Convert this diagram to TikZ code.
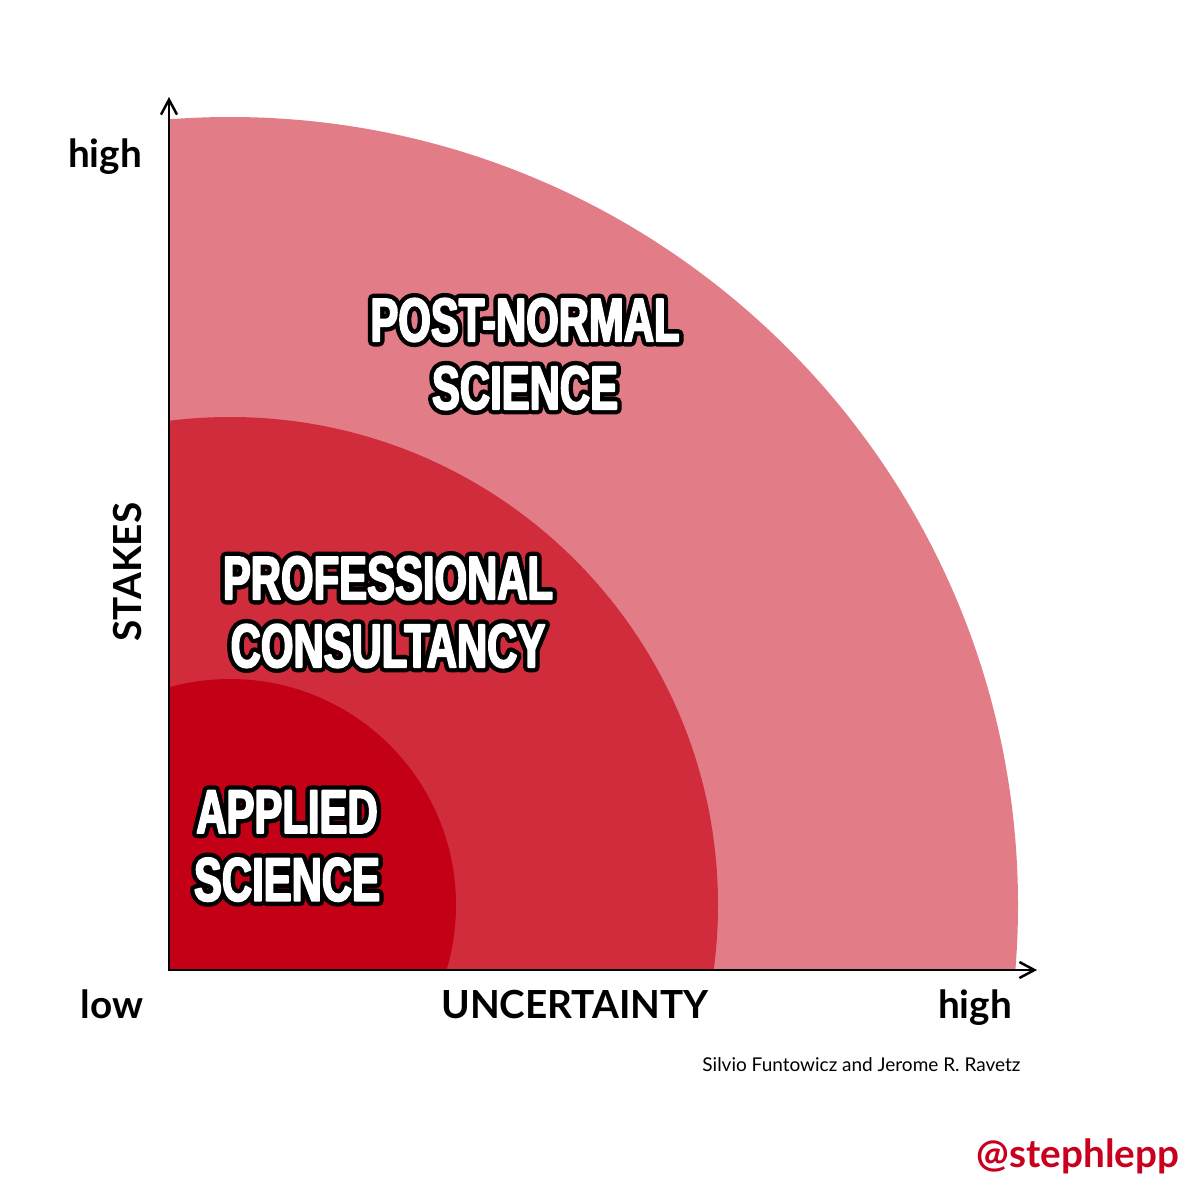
\documentclass[tikz,border=0pt]{standalone}
\usepackage{fontspec}
\setmainfont{Lato}
\newfontfamily\bannerfont[FakeStretch=0.68]{Liberation Sans}
\usetikzlibrary{arrows.meta}
\definecolor{pnsPink}{HTML}{E27D87}
\definecolor{pcRed}{HTML}{D02C3C}
\definecolor{asRed}{HTML}{C30016}
\definecolor{handleRed}{HTML}{C8001E}
% black outline under white letters
\newcommand{\outlined}[1]{\rlap{\special{pdf:literal direct 1 Tr 3 w 1 j 0 G}#1\special{pdf:literal direct 0 Tr}}%
  \special{pdf:literal direct 2 Tr 0.5 w 1 j 1 G}#1\special{pdf:literal direct 0 Tr}}

\begin{document}
\begin{tikzpicture}[x=0.01cm,y=-0.01cm,
    axislbl/.style={font=\bfseries\fontsize{11}{12}\selectfont,anchor=base,inner sep=0pt},
    banner/.style={font=\bannerfont\bfseries\fontsize{17.5}{19.3}\selectfont,
      text=white,align=center,inner sep=0pt},
    axisline/.style={line width=0.7pt,{Straight Barb[length=1.5mm,width=1.6mm]}-{Straight Barb[length=1.5mm,width=1.6mm]}}]
  \useasboundingbox (0,0) rectangle (1200,1200);

  % the three quarter discs
  \begin{scope}
    \clip (169,0) rectangle (1200,970);
    \fill[pnsPink] (230,905) circle (788);
    \fill[pcRed] (230,905) circle (488);
    \fill[asRed] (230,905) circle (226);
  \end{scope}

  \coordinate (origin) at (169,970);
  \coordinate (ytip) at (169,97);
  \coordinate (xtip) at (1037,970);
  \draw[axisline] (ytip) -- (origin) -- (xtip);

  \node[axislbl] (stakesHigh) at (105,167) {high};
  \node[axislbl,anchor=center,rotate=90] (stakesLbl) at (128,572) {STAKES};
  \node[axislbl] (uncLow) at (112,1018) {low};
  \node[axislbl] (uncLbl) at (575,1018) {UNCERTAINTY};
  \node[axislbl] (uncHigh) at (975,1018) {high};

  \node[font=\fontsize{5.4}{6}\selectfont,anchor=base east,inner sep=0pt] (credit)
    at (1021,1071) {Silvio Funtowicz and Jerome R. Ravetz};
  \node[font=\bfseries\fontsize{11}{12}\selectfont,text=handleRed,anchor=base east,inner sep=0pt] (handle)
    at (1180,1167) {@stephlepp};

  \node[banner] (postNormal) at (525,354) {\outlined{POST-NORMAL}\\\outlined{SCIENCE}};
  \node[banner] (profCons) at (388,612) {\outlined{PROFESSIONAL}\\\outlined{CONSULTANCY}};
  \node[banner] (applied) at (287,846) {\outlined{APPLIED}\\\outlined{SCIENCE}};
\end{tikzpicture}
\end{document}
